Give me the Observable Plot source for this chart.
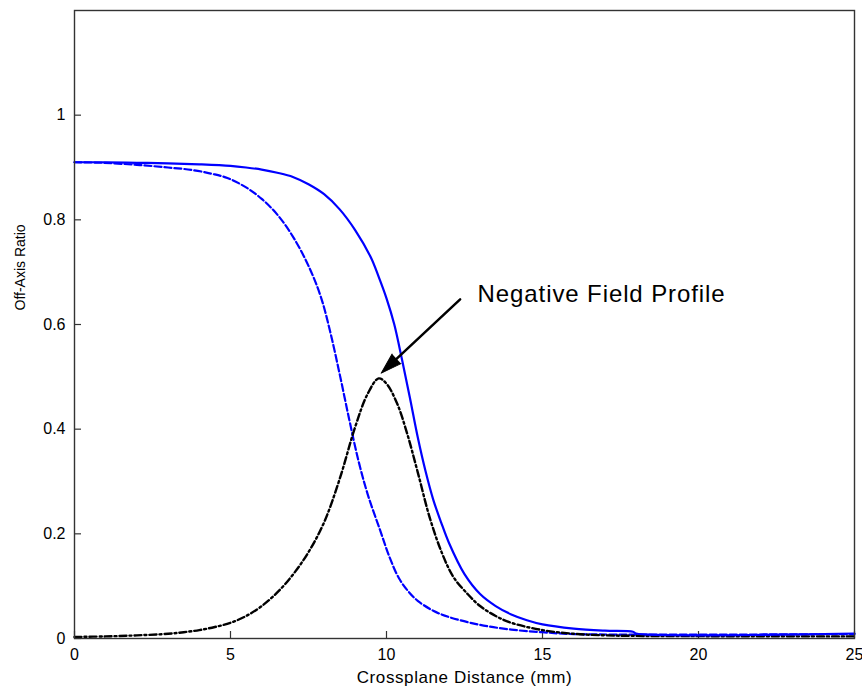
<!DOCTYPE html>
<html>
<head>
<meta charset="utf-8">
<script src="https://cdn.jsdelivr.net/npm/d3@7"></script>
<script src="https://cdn.jsdelivr.net/npm/@observablehq/plot@0.6"></script>
<style>
  html, body { margin: 0; padding: 0; background: #fff; }
</style>
</head>
<body>
<div id="chart"></div>
<script>
// ---- Data ----
const solidX = [0, 1, 2, 3, 4, 5, 5.5, 6, 6.5, 7, 7.5, 8, 8.5, 9, 9.5, 9.75, 10, 10.25, 10.5, 10.75, 11, 11.25, 11.5, 11.75, 12, 12.5, 13, 13.5, 14, 14.5, 15, 16, 17, 17.9, 18, 25];
const solidY = [0.910, 0.910, 0.909, 0.908, 0.906, 0.903, 0.900, 0.896, 0.890, 0.882, 0.868, 0.849, 0.820, 0.780, 0.728, 0.691, 0.650, 0.600, 0.532, 0.460, 0.385, 0.320, 0.265, 0.222, 0.183, 0.123, 0.085, 0.062, 0.046, 0.035, 0.027, 0.019, 0.015, 0.013, 0.0096, 0.0096];

const dashedX = [0, 0.9, 2, 3, 3.8, 4.4, 4.9, 5.5, 6, 6.5, 7, 7.5, 7.9, 8.2, 8.5, 8.8, 9.1, 9.4, 9.8, 10.1, 10.4, 10.7, 11, 11.5, 12, 13, 14, 15, 16, 25];
const dashedY = [0.910, 0.909, 0.905, 0.900, 0.895, 0.888, 0.880, 0.862, 0.840, 0.810, 0.768, 0.712, 0.652, 0.585, 0.505, 0.420, 0.340, 0.275, 0.206, 0.155, 0.115, 0.090, 0.072, 0.053, 0.041, 0.026, 0.017, 0.012, 0.0085, 0.0085];

const dashDotX = [0, 1, 2, 3, 3.5, 4, 4.5, 5, 5.5, 6, 6.5, 7, 7.5, 8, 8.5, 9, 9.4, 9.75, 10, 10.34, 10.66, 11, 11.4, 11.8, 12.15, 12.6, 13, 13.5, 14, 15, 16, 17, 18, 25];
const dashDotY = [0.003, 0.004, 0.006, 0.009, 0.012, 0.016, 0.022, 0.030, 0.043, 0.062, 0.088, 0.122, 0.165, 0.222, 0.305, 0.405, 0.468, 0.497, 0.487, 0.449, 0.392, 0.318, 0.228, 0.160, 0.117, 0.085, 0.062, 0.043, 0.030, 0.016, 0.009, 0.006, 0.005, 0.004];

const xTicks = [0, 5, 10, 15, 20, 25];
const yTicks = [0, 0.2, 0.4, 0.6, 0.8, 1];
const xDomain = [0, 25];
const yDomain = [0, 1.2];

const xLabel = "Crossplane Distance (mm)";
const yLabel = "Off-Axis Ratio";
const annotText = ["Negative Field Profile"];
const annotX = [12.92];
const annotY = [0.658];
const arrowTail = [12.36, 0.648];
const arrowTip = [9.83, 0.507];

// ---- Layout ----
const W = 862, H = 691;
const mL = 74, mT = 10, mR = 8, mB = 53;

const rows = (xs, ys) => xs.map((x, i) => ({x, y: ys[i]}));
const solid = rows(solidX, solidY);
const dashed = rows(dashedX, dashedY);
const dashDot = rows(dashDotX, dashDotY);
const annot = annotText.map((t, i) => ({t, x: annotX[i], y: annotY[i]}));
const arrowRow = [{x1: arrowTail[0], y1: arrowTail[1], x2: arrowTip[0], y2: arrowTip[1]}];

// arrow head direction in screen space
const kx = (W - mL - mR) / (xDomain[1] - xDomain[0]);
const ky = (H - mT - mB) / (yDomain[1] - yDomain[0]);
const ddx = (arrowTip[0] - arrowTail[0]) * kx;
const ddy = -(arrowTip[1] - arrowTail[1]) * ky;
const headAngle = Math.atan2(ddx, -ddy) * 180 / Math.PI;

const font = "'Liberation Sans', Arial, Helvetica, sans-serif";

const chart = Plot.plot({
  width: W,
  height: H,
  marginLeft: mL,
  marginTop: mT,
  marginRight: mR,
  marginBottom: mB,
  style: {fontFamily: font, fontSize: "16px", background: "#fff", color: "#000"},
  x: {domain: xDomain},
  y: {domain: yDomain},
  marks: [
    Plot.axisX({ticks: xTicks, tickSize: 0, tickPadding: 10, label: null, tickFormat: d3.format("")}),
    Plot.axisY({ticks: yTicks, tickSize: 0, tickPadding: 9, label: null, tickFormat: d3.format("")}),
    Plot.ruleX(xTicks, {x: d => d, y1: yDomain[0], y2: yDomain[0], insetTop: -7, stroke: "#333", strokeWidth: 1.2}),
    Plot.ruleY(yTicks, {y: d => d, x1: xDomain[0], x2: xDomain[0], insetRight: -7, stroke: "#333", strokeWidth: 1.2}),
    Plot.line(dashed, {x: "x", y: "y", stroke: "#0000ff", strokeWidth: 2.2, strokeDasharray: "7,3", curve: "catmull-rom"}),
    Plot.line(dashDot, {x: "x", y: "y", stroke: "#000", strokeWidth: 2.4, strokeDasharray: "7,3,2,3", curve: "catmull-rom"}),
    Plot.line(solid, {x: "x", y: "y", stroke: "#0000ff", strokeWidth: 2.2, curve: "catmull-rom"}),
    Plot.arrow(arrowRow, {x1: "x1", y1: "y1", x2: "x2", y2: "y2", headLength: 0, insetEnd: 14, stroke: "#000", strokeWidth: 2.5}),
    Plot.vector([arrowTip], {x: d => d[0], y: d => d[1], rotate: headAngle, length: 21, r: 6.5, shape: "spike", anchor: "end", fill: "#000", stroke: "#000", strokeWidth: 1}),
    Plot.text(annot, {x: "x", y: "y", text: "t", textAnchor: "start", lineAnchor: "middle", fontSize: 24, fill: "#000"}),
    Plot.text([xLabel], {text: d => d, frameAnchor: "bottom", dy: 39, lineAnchor: "middle", fontSize: 17, fill: "#000"}),
    Plot.text([yLabel], {text: d => d, frameAnchor: "left", dx: -54, dy: -14, rotate: -90, lineAnchor: "middle", fontSize: 14, fill: "#000"}),
    Plot.frame({stroke: "#333", strokeWidth: 1.4})
  ]
});

// letter spacing to match the wider original lettering
d3.select(chart).selectAll("text")
  .filter(function () { return this.textContent === annotText[0]; })
  .style("letter-spacing", "0.9px");
d3.select(chart).selectAll("text")
  .filter(function () { return this.textContent === xLabel; })
  .style("letter-spacing", "0.6px");

document.getElementById("chart").appendChild(chart);
</script>
</body>
</html>
